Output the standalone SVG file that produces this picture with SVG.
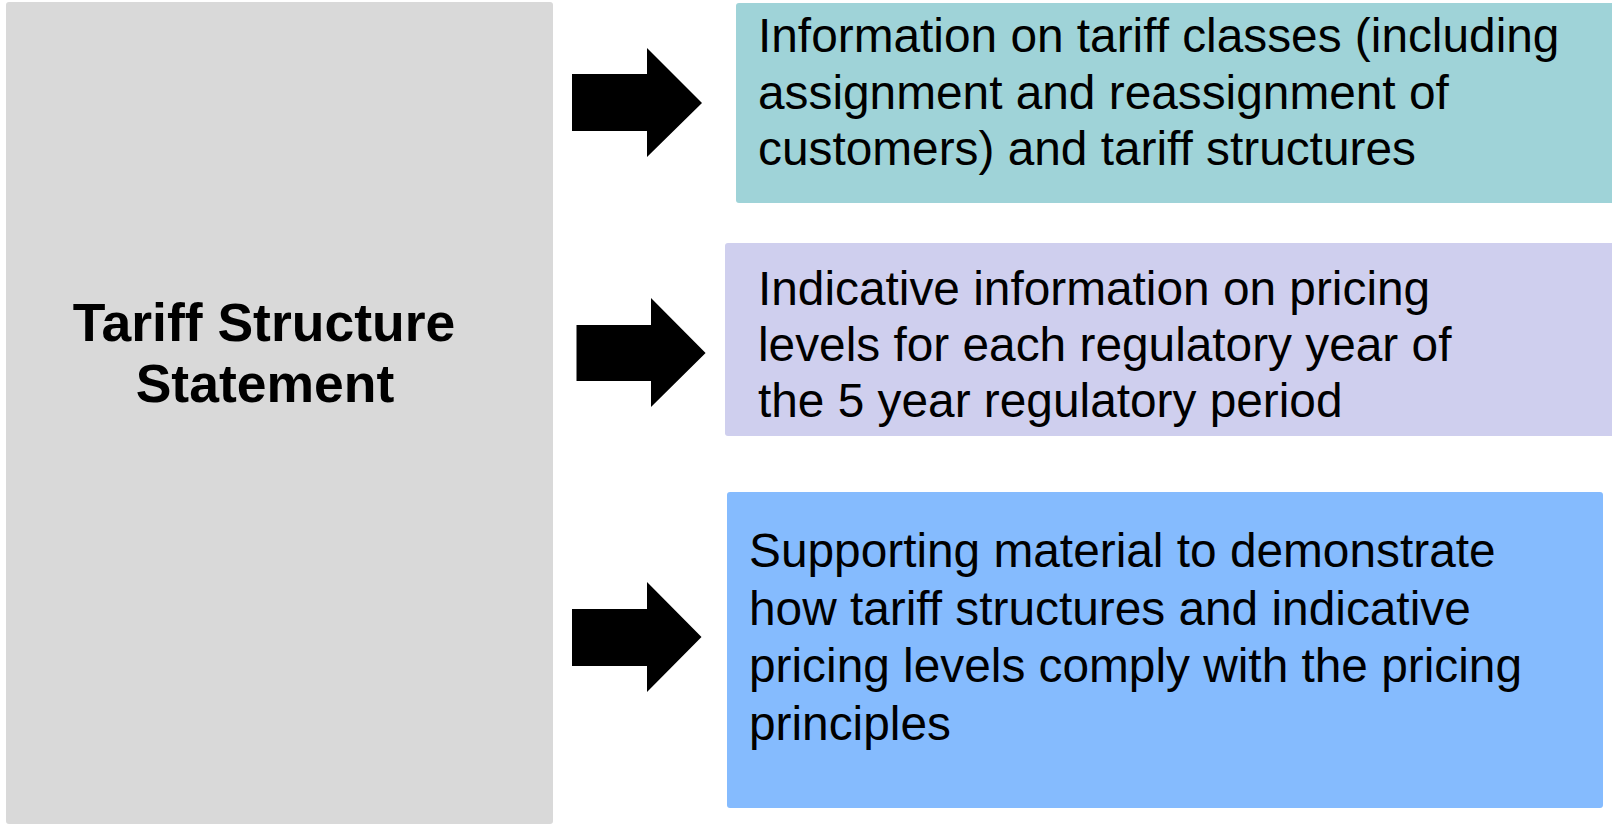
<svg xmlns="http://www.w3.org/2000/svg" width="1612" height="826" viewBox="0 0 1612 826">
<style>
.title{font-family:"Liberation Sans",Arial,sans-serif;font-weight:bold;font-size:53.5px;fill:#000;text-anchor:middle}
.body{font-family:"Liberation Sans",Arial,sans-serif;font-size:47.8px;fill:#000}
.arrow{fill:#000}
</style>
<rect width="1612" height="826" fill="#ffffff"/>
<g id="node-tss">
<rect x="6" y="2" width="547" height="822" rx="3" fill="#D9D9D9"/>
<text class="title" x="264" y="341">Tariff Structure</text>
<text class="title" x="265" y="402">Statement</text>
</g>
<g id="node-classes">
<rect x="736" y="3" width="880" height="200" rx="3" fill="#9FD3D8"/>
<text class="body" x="758" y="52">Information on tariff classes (including</text>
<text class="body" x="758" y="108.5">assignment and reassignment of</text>
<text class="body" x="758" y="165">customers) and tariff structures</text>
</g>
<g id="node-pricing">
<rect x="725" y="243" width="891" height="193" rx="3" fill="#CFCFEE"/>
<text class="body" x="758" y="305">Indicative information on pricing</text>
<text class="body" x="758" y="361">levels for each regulatory year of</text>
<text class="body" x="758" y="417">the 5 year regulatory period</text>
</g>
<g id="node-supporting">
<rect x="727" y="492" width="876" height="316" rx="3" fill="#85BBFE"/>
<text class="body" x="749" y="567">Supporting material to demonstrate</text>
<text class="body" x="749" y="624.5">how tariff structures and indicative</text>
<text class="body" x="749" y="682">pricing levels comply with the pricing</text>
<text class="body" x="749" y="739.5">principles</text>
</g>
<g id="connectors">
<polygon class="arrow" points="572,74 647,74 647,48 702,103 647,157 647,131 572,131"/>
<polygon class="arrow" points="576.5,325 651,325 651,298 705.6,353 651,407 651,381 576.5,381"/>
<polygon class="arrow" points="572,609 647,609 647,582 701.5,637 647,692 647,666 572,666"/>
</g>
</svg>
